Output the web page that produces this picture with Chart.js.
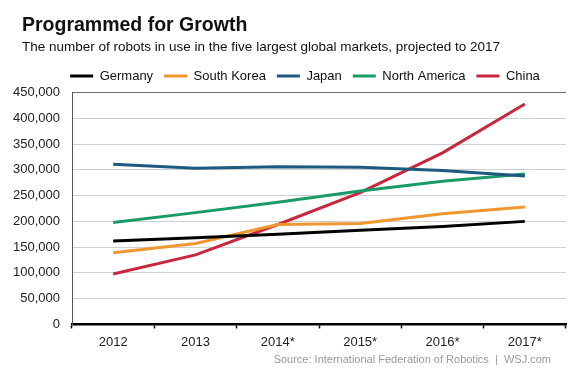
<!DOCTYPE html>
<html>
<head>
<meta charset="utf-8">
<script src="https://cdn.jsdelivr.net/npm/chart.js@4"></script>
<style>
  html, body { margin: 0; padding: 0; background: #fff; }
  #wrap { width: 584px; height: 375px; }
</style>
</head>
<body>
<div id="wrap"><canvas id="robots-chart"></canvas></div>
<script>
const years = ['2012', '2013', '2014*', '2015*', '2016*', '2017*']
const germany = [162000, 168000, 175000, 183000, 190000, 200000]
const southKorea = [139000, 157000, 194000, 196000, 215000, 228000]
const japan = [311000, 303000, 306000, 305000, 299000, 288000]
const northAmerica = [198000, 217000, 237000, 259000, 278000, 292000]
const china = [98000, 135000, 194000, 256000, 333000, 428000]
const yTicks = [0, 50000, 100000, 150000, 200000, 250000, 300000, 350000, 400000, 450000]

const font = "'Liberation Sans', Arial, sans-serif"

function series(label, values, color) {
    return {
        label: label,
        data: values,
        borderColor: color,
        backgroundColor: color,
        borderWidth: 3,
        fill: false,
        tension: 0,
        pointRadius: 0
    }
}

// title block and legend are indented relative to the y labels in the original
const headerShift = {
    id: 'headerShift',
    afterLayout(chart) {
        chart.boxes.forEach(function(box) {
            if (box === chart.legend) {
                box.left += 18
                box.right += 18
            } else if (box.options && box.options.text !== undefined && box.position === 'top') {
                box.left += 14
                box.right += 14
            }
        })
    }
}

const sourceNote = {
    id: 'sourceNote',
    afterDraw(chart) {
        const ctx = chart.ctx
        ctx.save()
        ctx.font = '11px ' + font
        ctx.fillStyle = '#9a9a9a'
        ctx.textAlign = 'right'
        ctx.textBaseline = 'alphabetic'
        ctx.fillText('Source: International Federation of Robotics  |  WSJ.com', 551, 363)
        ctx.restore()
    }
}

const config = {
    type: 'line',
    data: {
        labels: years,
        datasets: [
            series('Germany', germany, '#000000'),
            series('South Korea', southKorea, '#f0962e'),
            series('Japan', japan, '#1e5a80'),
            series('North America', northAmerica, '#1a9a66'),
            series('China', china, '#c8283f')
        ]
    },
    options: {
        responsive: true,
        maintainAspectRatio: false,
        animation: false,
        layout: {
            padding: { left: 8, right: 18, top: 10, bottom: 19 }
        },
        plugins: {
            title: {
                display: true,
                text: 'Programmed for Growth',
                align: 'start',
                color: '#111',
                font: { family: font, size: 19.5, weight: 'bold' },
                padding: { top: 4, bottom: 2 }
            },
            subtitle: {
                display: true,
                text: 'The number of robots in use in the five largest global markets, projected to 2017',
                align: 'start',
                color: '#111',
                font: { family: font, size: 13.5 },
                padding: { bottom: 3 }
            },
            legend: {
                display: true,
                labels: {
                    boxWidth: 23,
                    boxHeight: 3,
                    padding: 11,
                    color: '#111',
                    font: { family: font, size: 13 },
                    generateLabels(chart) {
                        return Chart.defaults.plugins.legend.labels.generateLabels(chart).map(function(item) {
                            item.lineWidth = 0
                            return item
                        })
                    }
                }
            },
            tooltip: { enabled: false }
        },
        scales: {
            x: {
                offset: true,
                grid: {
                    offset: true,
                    drawOnChartArea: false,
                    drawTicks: true,
                    tickLength: 4,
                    tickWidth: 1.5,
                    tickColor: '#000'
                },
                border: { display: true, color: '#000', width: 2.5 },
                ticks: {
                    color: '#222',
                    font: { family: font, size: 13 },
                    padding: 6
                }
            },
            y: {
                min: 0,
                max: 450000,
                afterBuildTicks(scale) {
                    scale.ticks = yTicks.map(function(v) { return { value: v } })
                },
                afterFit(scale) {
                    scale.width = 64
                },
                grid: {
                    drawTicks: false,
                    lineWidth: 1,
                    color(ctx) {
                        return ctx.tick && ctx.tick.value === 450000 ? '#6e6e6e' : '#cfcfcf'
                    }
                },
                border: { display: true, color: '#555', width: 1 },
                ticks: {
                    color: '#222',
                    padding: 12,
                    font: { family: font, size: 13 },
                    callback(value) { return value.toLocaleString('en-US') }
                }
            }
        }
    },
    plugins: [headerShift, sourceNote]
}

new Chart(document.getElementById('robots-chart'), config)
</script>
</body>
</html>
